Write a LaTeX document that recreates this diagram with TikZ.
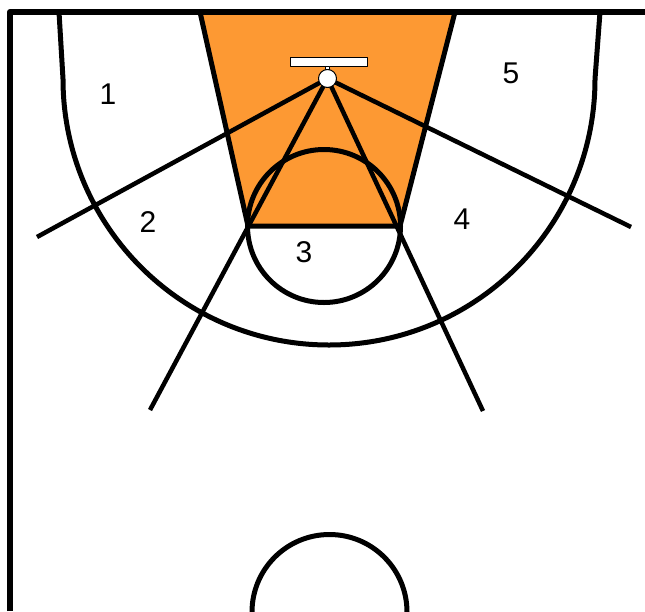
\documentclass[tikz,border=0pt]{standalone}
\usepackage{fontspec}
\setmainfont{Liberation Sans}
\definecolor{lane}{RGB}{253,153,51}
\begin{document}
\begin{tikzpicture}[x=1pt,y=-1pt,line join=round,
  court/.style={line width=5pt},
  shot/.style={line width=4.5pt},
  thinline/.style={line width=1pt,fill=white},
  zone/.style={font=\fontsize{30}{30}\selectfont,inner sep=0pt}]
\useasboundingbox[fill=white] (0,0) rectangle (645,611);
% lane
\coordinate (ltop) at (200,12);
\coordinate (rtop) at (455,12);
\coordinate (lft) at (248,226);
\coordinate (rft) at (400,226);
\fill[lane] (ltop) -- (rtop) -- (rft) -- (lft) -- cycle;
\draw[court] (ltop) -- (lft) -- (rft) -- (rtop);
% free throw circle
\coordinate (ftc) at (324,226);
\draw[court] (ftc) circle[radius=76.5pt];
% border
\draw[court,line width=6pt] (10,611) -- (10,12) -- (645,12);
% three point line
\coordinate (tpl) at (59,12);
\coordinate (tpr) at (600,12);
\draw[court] (tpl) -- (63,79) arc[start angle=180,end angle=360,radius=266pt] -- (tpr);
% shot lines
\coordinate (hoop) at (327.5,78.5);
\coordinate (e1) at (37,237);
\coordinate (e2) at (150,410);
\coordinate (e3) at (483,411);
\coordinate (e4) at (631,227);
\draw[shot] (hoop) -- (e1);
\draw[shot] (hoop) -- (e2);
\draw[shot] (hoop) -- (e3);
\draw[shot] (hoop) -- (e4);
% backboard and hoop
\draw[thinline] (290,57) rectangle (367,66);
\draw[thinline,line width=0.8pt] (325.5,66) rectangle (329.5,71);
\draw[thinline] (hoop) circle[radius=9pt];
% centre circle
\coordinate (cc) at (252,612);
\draw[court] (cc) arc[start angle=180,end angle=0,radius=77.5pt];
% zone labels
\node[zone] (z1) at (108,94) {1};
\node[zone] (z2) at (148,222) {2};
\node[zone] (z3) at (304,252) {3};
\node[zone] (z4) at (462,219) {4};
\node[zone] (z5) at (511,73) {5};
\end{tikzpicture}
\end{document}
